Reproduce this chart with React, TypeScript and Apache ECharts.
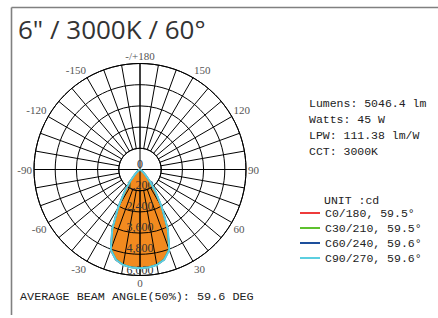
import { useEffect, useRef } from 'react';
import * as echarts from 'echarts';

// Polar angles (degrees, 0 = straight down, + to the right)
const ANGLES = [
  -90, -85, -80, -75, -70, -65, -60, -55, -50, -45, -40, -35, -30, -25, -20, -15, -10, -5,
  0,
  5, 10, 15, 20, 25, 30, 35, 40, 45, 50, 55, 60, 65, 70, 75, 80, 85, 90,
];

// Intensities (cd) per C-plane
const C0 = [
  0, 0, 0, 0, 5, 10, 25, 70, 180, 420, 860, 1520, 2480, 3740, 4860, 5300, 5490, 5570,
  5590,
  5560, 5480, 5280, 4830, 3700, 2450, 1500, 850, 420, 180, 70, 25, 10, 5, 0, 0, 0, 0,
];
const C30 = [
  0, 0, 0, 0, 5, 10, 25, 70, 180, 410, 840, 1480, 2430, 3680, 4810, 5270, 5470, 5550,
  5575,
  5550, 5470, 5270, 4810, 3690, 2440, 1490, 840, 410, 180, 70, 25, 10, 5, 0, 0, 0, 0,
];
const C60 = [
  0, 0, 0, 0, 5, 10, 25, 75, 185, 425, 860, 1500, 2460, 3710, 4830, 5280, 5480, 5560,
  5580,
  5560, 5480, 5280, 4840, 3720, 2470, 1510, 860, 425, 185, 75, 25, 10, 5, 0, 0, 0, 0,
];
const C90 = [
  0, 0, 0, 0, 5, 10, 25, 75, 190, 430, 870, 1510, 2470, 3720, 4840, 5290, 5490, 5570,
  5590,
  5570, 5490, 5290, 4850, 3730, 2480, 1520, 870, 430, 190, 75, 25, 10, 5, 0, 0, 0, 0,
];

const SERIES_NAMES = ['C0/180, 59.5°', 'C30/210, 59.5°', 'C60/240, 59.6°', 'C90/270, 59.6°'];
const SERIES_COLORS = ['#EE3B3B', '#5EC12E', '#1D4F9C', '#5CCFE0'];
const FILL_COLOR = '#F28A1F';

const ANGLE_TICKS = [-180, -150, -120, -90, -60, -30, 0, 30, 60, 90, 120, 150];
const ANGLE_TICK_TEXT = ['-/+180', '-150', '-120', '-90', '-60', '-30', '0', '30', '60', '90', '120', '150'];

const RADIUS_MAX = 6000;
const RADIUS_STEP = 1200;

const TITLE = '6" / 3000K / 60°';
const INFO_LINES = ['Lumens: 5046.4 lm', 'Watts: 45 W', 'LPW: 111.38 lm/W', 'CCT: 3000K'];
const UNIT_TEXT = 'UNIT :cd';
const FOOTER = 'AVERAGE BEAM ANGLE(50%): 59.6 DEG';

const MONO = 'Liberation Mono';
const SERIF = 'Liberation Serif';

function toPolar(values: number[]) {
  return values.map((v, i) => {
    const a = ANGLES[i];
    return [v, a < 0 ? a + 360 : a];
  });
}

export default function App() {
  const ref = useRef<HTMLDivElement>(null);
  useEffect(() => {
    const chart = echarts.init(ref.current!, null, { renderer: 'svg' });
    const center = [140, 169.5];
    const R = 106;
    const seriesData = [C0, C30, C60, C90];

    const option: any = {
      animation: false,
      backgroundColor: '#fff',
      polar: [
        { center, radius: [R * RADIUS_STEP / RADIUS_MAX, R] },
        { center, radius: [0, R] },
      ],
      angleAxis: [
        {
          polarIndex: 0,
          type: 'value',
          min: -180,
          max: 180,
          interval: 10,
          startAngle: 90,
          clockwise: false,
          z: 5,
          axisLine: { show: true, lineStyle: { color: '#000', width: 1 } },
          axisTick: { show: false },
          splitLine: { show: true, lineStyle: { color: '#000', width: 1 } },
          axisLabel: {
            margin: 2,
            color: '#555',
            fontFamily: SERIF,
            fontSize: 11,
            formatter: (v: number) => {
              const idx = ANGLE_TICKS.indexOf(v);
              return idx >= 0 ? ANGLE_TICK_TEXT[idx] : '';
            },
          },
        },
        {
          polarIndex: 1,
          type: 'value',
          min: 0,
          max: 360,
          interval: 90,
          startAngle: 270,
          clockwise: false,
          z: 5,
          axisLine: { show: false },
          axisTick: { show: false },
          axisLabel: { show: false },
          splitLine: { show: true, lineStyle: { color: '#000', width: 1 } },
        },
      ],
      radiusAxis: [
        {
          polarIndex: 0,
          type: 'value',
          min: RADIUS_STEP,
          max: RADIUS_MAX,
          interval: RADIUS_STEP,
          z: 5,
          axisLine: { show: false },
          axisTick: { show: false },
          axisLabel: { show: false },
          splitLine: { show: true, lineStyle: { color: '#000', width: 1 } },
        },
        {
          polarIndex: 1,
          type: 'value',
          min: 0,
          max: RADIUS_MAX,
          interval: RADIUS_STEP,
          z: 5,
          axisLine: { show: false },
          axisTick: { show: false },
          splitLine: { show: false },
          axisLabel: {
            margin: 0,
            align: 'center',
            verticalAlign: 'bottom',
            color: '#333',
            fontFamily: SERIF,
            fontSize: 12,
          },
        },
      ],
      legend: {
        orient: 'vertical',
        left: 295,
        top: 202,
        itemWidth: 20,
        itemHeight: 2,
        itemGap: 3,
        icon: 'rect',
        data: SERIES_NAMES,
        textStyle: { fontFamily: MONO, fontSize: 11.5, color: '#222' },
      },
      series: [
        {
          type: 'line',
          coordinateSystem: 'polar',
          name: 'fill',
          polarIndex: 1,
          data: toPolar(C0),
          showSymbol: false,
          silent: true,
          z: 1,
          lineStyle: { opacity: 0, width: 0 },
          itemStyle: { color: FILL_COLOR },
          areaStyle: { color: FILL_COLOR, opacity: 1 },
        },
        ...seriesData.map((vals, i) => ({
          type: 'line',
          coordinateSystem: 'polar',
          name: SERIES_NAMES[i],
          polarIndex: 1,
          data: toPolar(vals),
          showSymbol: false,
          z: 6,
          lineStyle: { color: SERIES_COLORS[i], width: i === 3 ? 2 : 1.5 },
          itemStyle: { color: SERIES_COLORS[i] },
        })),
      ],
      graphic: [
        { type: 'line', shape: { x1: 11.5, y1: 7.5, x2: 438, y2: 7.5 }, style: { stroke: '#808080', lineWidth: 1.6 } },
        { type: 'line', shape: { x1: 11.5, y1: 7.5, x2: 11.5, y2: 315 }, style: { stroke: '#808080', lineWidth: 1.6 } },
        {
          type: 'text', x: 18, y: 29,
          style: { text: TITLE, fontFamily: 'Open Sans', fontSize: 26, fill: '#333', textVerticalAlign: 'middle' },
        },
        ...INFO_LINES.map((t, i) => ({
          type: 'text', x: 309, y: 103 + i * 16,
          style: { text: t, fontFamily: MONO, fontSize: 11.5, fill: '#222', textVerticalAlign: 'middle' },
        })),
        {
          type: 'text', x: 324, y: 200,
          style: { text: UNIT_TEXT, fontFamily: MONO, fontSize: 11.5, fill: '#222', textVerticalAlign: 'middle' },
        },
        {
          type: 'text', x: 20, y: 296.5,
          style: { text: FOOTER, fontFamily: MONO, fontSize: 11.8, fill: '#222', textVerticalAlign: 'middle' },
        },
      ],
    };
    chart.setOption(option);
    return () => chart.dispose();
  }, []);
  return <div ref={ref} style={{ position: 'absolute', left: 0, top: 0, width: 438, height: 318 }} />;
}
